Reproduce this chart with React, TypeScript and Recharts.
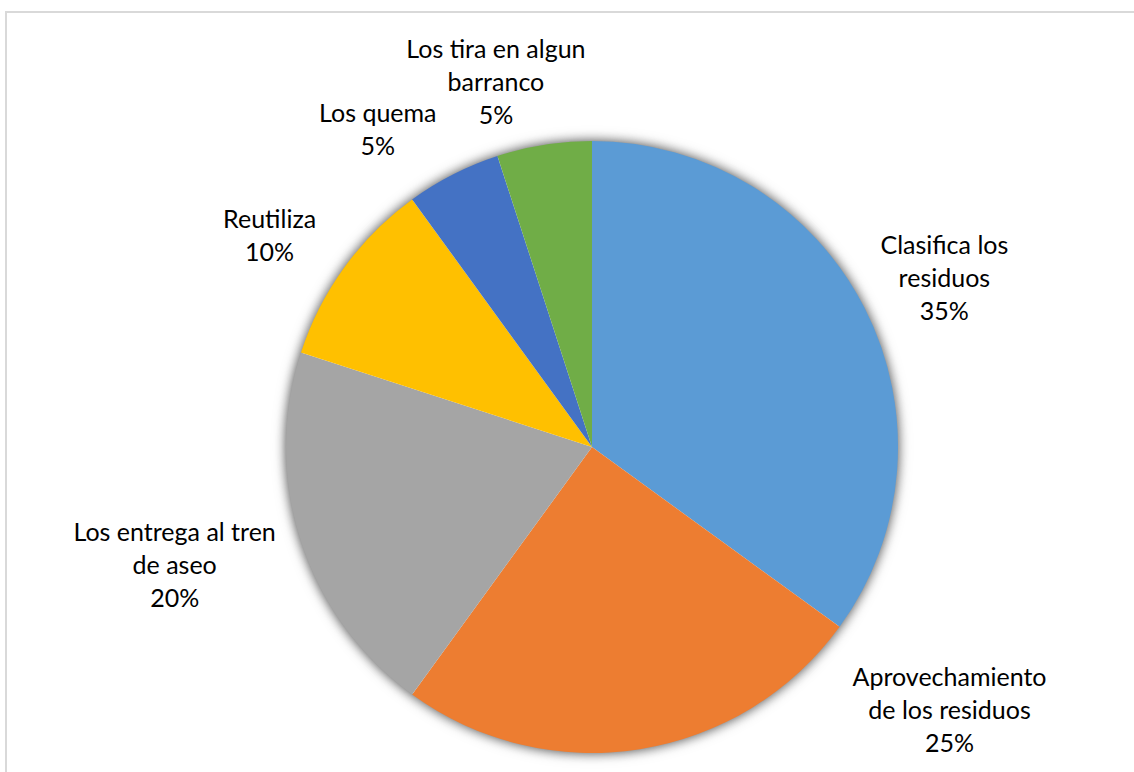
import { PieChart, Pie, Cell } from 'recharts'

// Slice data, clockwise from 12 o'clock
const categories = [
  'Clasifica los\nresiduos',
  'Aprovechamiento\nde los residuos',
  'Los entrega al tren\nde aseo',
  'Reutiliza',
  'Los quema',
  'Los tira en algun\nbarranco',
]
const shares = [35, 25, 20, 10, 5, 5]
const colors = ['#5B9BD5', '#ED7D31', '#A5A5A5', '#FFC000', '#4472C4', '#70AD47']

// where Excel's "best fit" put each label: angle (deg) and distance in radii
const labelAngles = [25.7, -36.2, 195.6, 146.6, 123.9, 104.7]
const labelDist = [1.278, 1.448, 1.416, 1.262, 1.255, 1.237]

const chartData = categories.map((name, i) => ({ name, value: shares[i] }))
const shadowData = [{ name: 'shadow', value: 1 }]

const LINE_H = 33
const RAD = Math.PI / 180

function renderLabel(props: any) {
  const { cx, cy, outerRadius, index, percent } = props
  const a = labelAngles[index] * RAD
  const d = labelDist[index] * outerRadius
  const x = cx + d * Math.cos(a)
  const y = cy - d * Math.sin(a)
  const lines = [...categories[index].split('\n'), `${Math.round(percent * 100)}%`]
  const y0 = y - ((lines.length - 1) * LINE_H) / 2
  return (
    <text
      key={`lbl-${index}`}
      x={x}
      y={y0}
      textAnchor="middle"
      dominantBaseline="central"
      fill="#000"
      fontSize={25}
      fontFamily="Lato, 'Noto Sans', sans-serif"
    >
      {lines.map((t, i) => (
        <tspan key={i} x={x} y={y0 + i * LINE_H}>
          {t}
        </tspan>
      ))}
    </text>
  )
}

export default function App() {
  return (
    <div
      style={{
        position: 'absolute',
        left: 0,
        top: 0,
        width: 1134,
        height: 772,
        overflow: 'hidden',
        background: '#fff',
      }}
    >
      <style>{'.pie-shadow { filter: drop-shadow(0 0 6px rgba(0,0,0,0.45)); }'}</style>
      <div
        style={{
          position: 'absolute',
          left: 5,
          top: 11,
          width: 1200,
          height: 800,
          border: '2px solid #d9d9d9',
        }}
      />
      <div style={{ position: 'absolute', left: 0, top: 0 }}>
        <PieChart width={1134} height={772} margin={{ top: 0, right: 0, bottom: 0, left: 0 }}>
          <Pie
            data={shadowData}
            dataKey="value"
            cx={592}
            cy={447}
            outerRadius={305}
            startAngle={90}
            endAngle={-270}
            fill="#fff"
            stroke="none"
            className="pie-shadow"
            isAnimationActive={false}
          />
          <Pie
            data={chartData}
            dataKey="value"
            nameKey="name"
            cx={592}
            cy={447}
            outerRadius={306}
            startAngle={90}
            endAngle={-270}
            stroke="none"
            label={renderLabel}
            labelLine={false}
            isAnimationActive={false}
          >
            {chartData.map((_, i) => (
              <Cell key={i} fill={colors[i]} />
            ))}
          </Pie>
        </PieChart>
      </div>
    </div>
  )
}
